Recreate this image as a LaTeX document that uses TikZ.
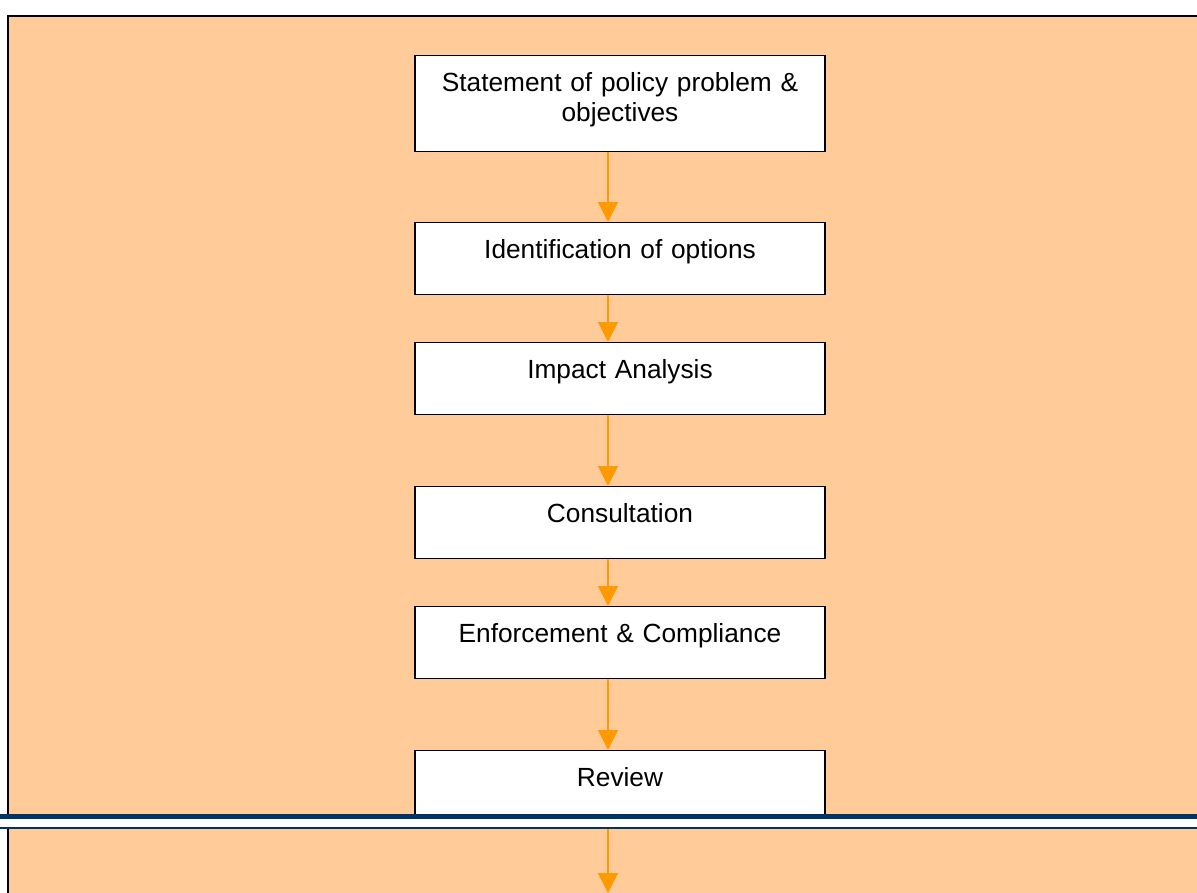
\documentclass[tikz,border=0pt]{standalone}
\usepackage{fontspec}
\setmainfont{Liberation Sans}
\usetikzlibrary{arrows.meta}
\definecolor{peach}{RGB}{255,204,153}
\definecolor{flowarrow}{RGB}{255,153,0}
\definecolor{rulenavy}{RGB}{0,51,102}
\tikzset{
  stepbox/.style={draw=black, line width=1pt, fill=white, anchor=north, inner sep=0pt,
    minimum width=307.5pt, text width=307.5pt, align=center,
    font=\fontsize{19.7}{22.7}\selectfont, text height=27pt, text depth=27pt},
  flow/.style={draw=flowarrow, line width=1pt, -{Triangle[width=15pt,length=15pt,fill=flowarrow]}},
}
\begin{document}
\begin{tikzpicture}[x=0.75pt,y=0.75pt,yscale=-1]
\useasboundingbox (0,0) rectangle (1197,893);

%Background panel
\fill [peach] (8,15.5) rectangle (1210,905);
\draw [line width=1.5pt] (8,905) -- (8,15.5) -- (1210,15.5);

% Step boxes
\node [stepbox, text depth=45pt] (s1) at (620,55) {Statement of policy problem \&\\objectives};
\node [stepbox] (s2) at (620,222) {Identification of options};
\node [stepbox] (s3) at (620,342) {Impact Analysis};
\node [stepbox] (s4) at (620,486) {Consultation};
\node [stepbox] (s5) at (620,606) {Enforcement \& Compliance};
\node [stepbox] (s6) at (620,750) {Review};
\coordinate (pageend) at (608,893);

%Straight Lines
\draw [flow] ([xshift=-9pt]s1.south) -- ([xshift=-9pt]s2.north);
\draw [flow] ([xshift=-9pt]s2.south) -- ([xshift=-9pt]s3.north);
\draw [flow] ([xshift=-9pt]s3.south) -- ([xshift=-9pt]s4.north);
\draw [flow] ([xshift=-9pt]s4.south) -- ([xshift=-9pt]s5.north);
\draw [flow] ([xshift=-9pt]s5.south) -- ([xshift=-9pt]s6.north);
\draw [flow] ([xshift=-9pt]s6.south) -- (pageend);

%Page break rule
\fill [white] (0,814) rectangle (1197,828);
\fill [rulenavy] (0,814) rectangle (1197,819);
\fill [rulenavy] (0,826.5) rectangle (1197,828.5);

\end{tikzpicture}
\end{document}
